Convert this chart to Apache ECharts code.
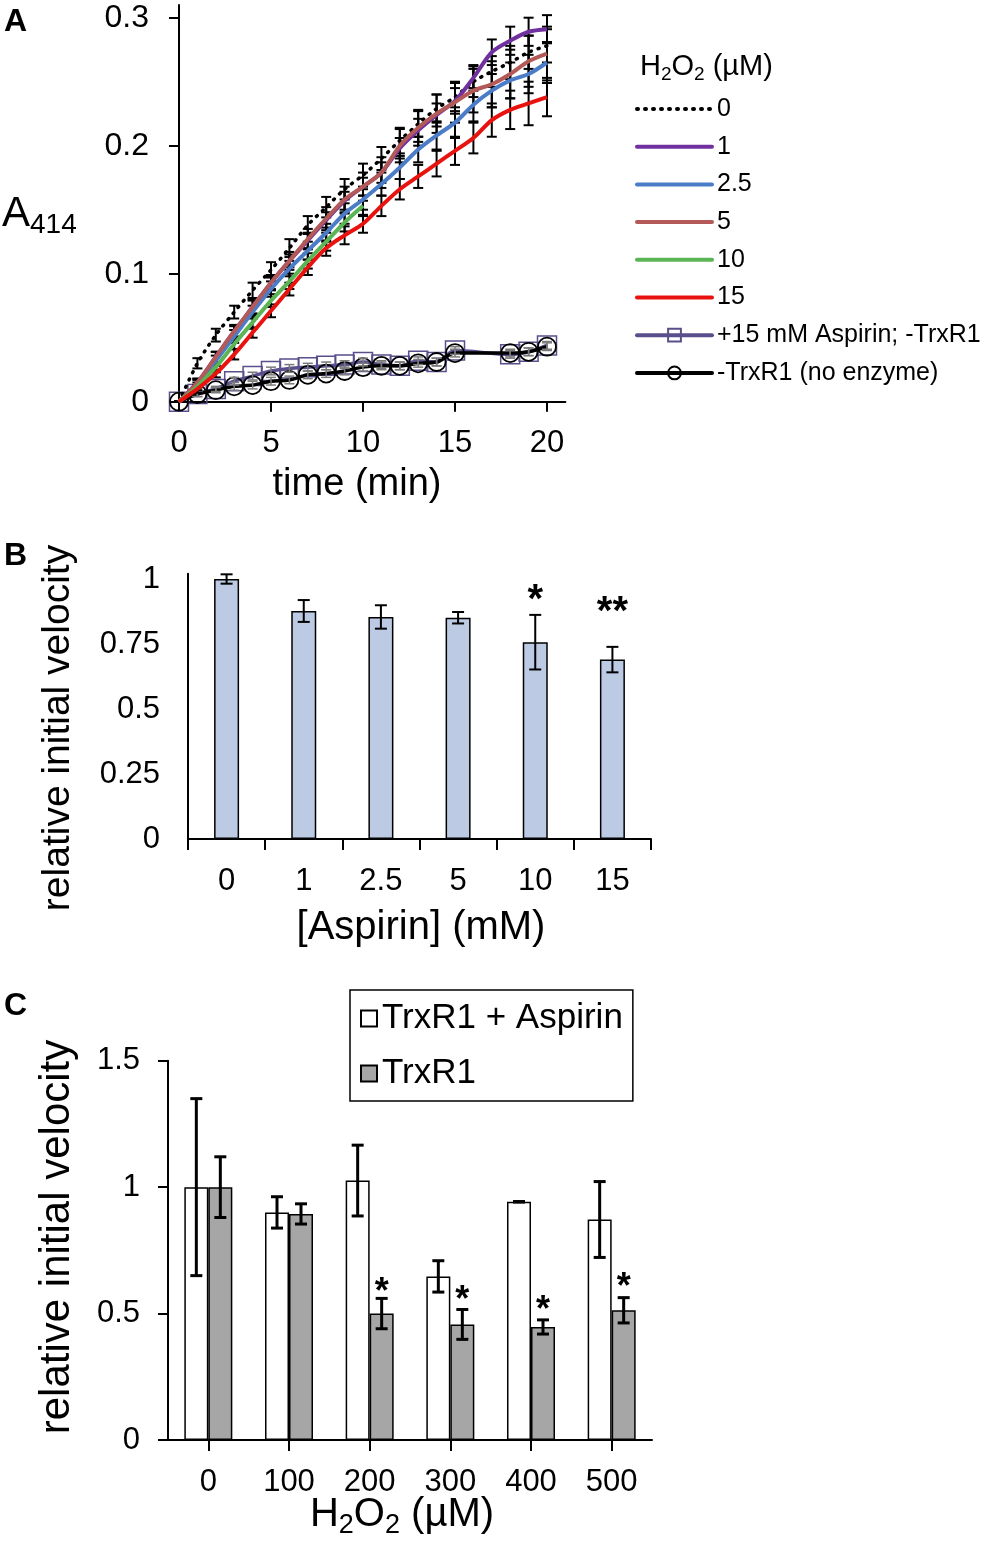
<!DOCTYPE html>
<html><head><meta charset="utf-8">
<script src="https://cdn.jsdelivr.net/npm/echarts@6/dist/echarts.min.js"></script>
<style>html,body{margin:0;padding:0;background:#fff}#c{width:986px;height:1541px}</style>
</head><body><div id="c"></div><script>
const FONT = '"Liberation Sans", Arial, Helvetica, sans-serif';

// ---------- Panel A data ----------
const timeA = [0,1,2,3,4,5,6,7,8,9,10,11,12,13,14,15,16,17,18,19,20];
const a_h0   = [0,0.030,0.052,0.070,0.087,0.103,0.120,0.138,0.152,0.166,0.177,0.190,0.204,0.217,0.229,0.238,0.250,0.258,0.265,0.273,0.278];
const a_h1   = [0,0.015,0.035,0.055,0.074,0.093,0.110,0.126,0.142,0.157,0.168,0.179,0.198,0.212,0.224,0.235,0.253,0.273,0.282,0.289,0.291];
const a_h2_5 = [0,0.014,0.032,0.051,0.070,0.088,0.104,0.118,0.132,0.147,0.158,0.170,0.183,0.197,0.208,0.218,0.232,0.243,0.251,0.256,0.265];
const a_h5   = [0,0.015,0.035,0.055,0.074,0.093,0.110,0.127,0.143,0.158,0.168,0.179,0.200,0.214,0.225,0.234,0.243,0.248,0.256,0.266,0.272];
const a_h10  = [0,0.012,0.027,0.045,0.062,0.079,0.094,0.110,0.125,0.140,0.153];
const a_h15  = [0,0.010,0.022,0.037,0.054,0.071,0.088,0.105,0.120,0.130,0.139,0.153,0.166,0.176,0.186,0.196,0.206,0.220,0.228,0.233,0.238];
const e_h0   = [0,0.004,0.005,0.005,0.006,0.006,0.007,0.007,0.008,0.008,0.009,0.009,0.010,0.010,0.011,0.011,0.012,0.012,0.013,0.013,0.013];
const e_h1   = [0,0.003,0.004,0.004,0.005,0.005,0.005,0.006,0.006,0.007,0.007,0.008,0.008,0.009,0.009,0.010,0.010,0.010,0.011,0.011,0.011];
const e_h2_5 = [0,0.003,0.004,0.005,0.005,0.006,0.006,0.007,0.007,0.008,0.008,0.009,0.009,0.010,0.011,0.012,0.013,0.013,0.014,0.015,0.016];
const e_h5   = [0,0.003,0.004,0.005,0.006,0.006,0.007,0.008,0.009,0.010,0.011,0.012,0.013,0.014,0.015,0.016,0.017,0.018,0.019,0.020,0.021];
const e_h10  = [0,0.003,0.004,0.004,0.005,0.005,0.006,0.006,0.007,0.007,0.008];
const e_h15  = [0,0.003,0.003,0.004,0.004,0.005,0.005,0.006,0.006,0.007,0.007,0.008,0.008,0.009,0.010,0.011,0.012,0.013,0.015,0.017,0.015];
const timeLow = [0,1,2,3,4,5,6,7,8,9,10,11,12,13,14,15,18,19,20];
const a_asp   = [0,0.006,0.010,0.016,0.020,0.024,0.026,0.027,0.028,0.029,0.031,0.029,0.028,0.032,0.031,0.040,0.037,0.039,0.044];
const a_noEnz = [0,0.006,0.009,0.012,0.013,0.016,0.017,0.021,0.022,0.024,0.027,0.028,0.028,0.030,0.031,0.038,0.038,0.039,0.043];
const e_asp   = [0,0.002,0.002,0.003,0.003,0.003,0.003,0.003,0.003,0.003,0.003,0.003,0.003,0.003,0.003,0.003,0.003,0.003,0.003];
const e_noEnz = [0,0.002,0.002,0.003,0.003,0.003,0.003,0.003,0.003,0.003,0.003,0.003,0.003,0.003,0.003,0.003,0.003,0.003,0.003];
const namesA = ['0','1','2.5','5','10','15','+15 mM Aspirin; -TrxR1','-TrxR1 (no enzyme)'];
const ticksAx = [0,5,10,15,20];
const ticksAy = [0,0.1,0.2,0.3];

// ---------- Panel B data ----------
const catsB = ['0','1','2.5','5','10','15'];
const valsB = [1.0,0.877,0.854,0.851,0.757,0.690];
const errB  = [0.018,0.042,0.045,0.022,0.105,0.049];
const starsB = [[4,0.948,'*'],[5,0.900,'**']];
const ticksBy = [0,0.25,0.5,0.75,1];

// ---------- Panel C data ----------
const catsC = ['0','100','200','300','400','500'];
const valsCasp = [1.0,0.900,1.026,0.647,0.942,0.872];
const errCasp  = [0.350,0.062,0.140,0.062,0.001,0.150];
const valsCtrx = [1.0,0.894,0.500,0.457,0.447,0.513];
const errCtrx  = [0.120,0.040,0.060,0.059,0.028,0.050];
const starsC = [[2,0.610,'*'],[3,0.578,'*'],[4,0.540,'*'],[5,0.630,'*']];
const namesC = ['TrxR1 + Aspirin','TrxR1'];

const colorsA = ['#000000','#7030a0','#4a7cc8','#b35a58','#5cb555','#e8130f','#5b4e8c','#000000'];

function pairs(xs, ys){ return ys.map((y,i)=>[xs[i], y]); }
function triples(xs, ys, es){ return ys.map((y,i)=>[xs[i], y, es[i]]); }

function errRender(color, lw, cap, dx){
  return function(params, api){
    const x = api.value(0), v = api.value(1), e = api.value(2);
    const top = api.coord([x, v + e]);
    const bot = api.coord([x, v - e]);
    const cx = top[0] + (dx||0);
    const st = {stroke: color, lineWidth: lw};
    return {type:'group', children:[
      {type:'line', shape:{x1:cx, y1:top[1], x2:cx, y2:bot[1]}, style:st},
      {type:'line', shape:{x1:cx-cap, y1:top[1], x2:cx+cap, y2:top[1]}, style:st},
      {type:'line', shape:{x1:cx-cap, y1:bot[1], x2:cx+cap, y2:bot[1]}, style:st}
    ]};
  };
}
function starRender(size, dx){
  return function(params, api){
    const p = api.coord([api.value(0), api.value(1)]);
    return {type:'text', x:p[0]+(dx||0), y:p[1]+size*0.2,
      style:{text: api.value(2), font:'bold '+size+'px '+FONT, fill:'#000', align:'center', verticalAlign:'middle'}};
  };
}

const axisLineBlack = {show:true, lineStyle:{color:'#000', width:2}};
const tickStyle = {color:'#000', width:2};

const series = [];
const aVals = [a_h0,a_h1,a_h2_5,a_h5,a_h10,a_h15];
const aErrs = [e_h0,e_h1,e_h2_5,e_h5,e_h10,e_h15];
series.push({name:namesA[6], type:'line', xAxisIndex:0, yAxisIndex:0, data:pairs(timeLow,a_asp), smooth:0.3,
  symbol:'rect', symbolSize:19, showAllSymbol:true,
  lineStyle:{color:colorsA[6], width:3.5}, itemStyle:{color:'rgba(255,255,255,0)', borderColor:colorsA[6], borderWidth:1.5}, z:2});
series.push({name:namesA[7], type:'line', xAxisIndex:0, yAxisIndex:0, data:pairs(timeLow,a_noEnz), smooth:0.3,
  symbol:'circle', symbolSize:18, showAllSymbol:true,
  lineStyle:{color:colorsA[7], width:3.5}, itemStyle:{color:'rgba(255,255,255,0)', borderColor:'#000', borderWidth:1.8}, z:3});
series.push({type:'custom', xAxisIndex:0, yAxisIndex:0, data:triples(timeLow,a_asp,e_asp), renderItem:errRender('#7a7a7a',1.5,5), z:4, silent:true});
series.push({type:'custom', xAxisIndex:0, yAxisIndex:0, data:triples(timeLow,a_noEnz,e_noEnz), renderItem:errRender('#7a7a7a',1.5,5), z:4, silent:true});
for (let i=0;i<6;i++){
  const xs = timeA.slice(0, aVals[i].length);
  series.push({type:'custom', xAxisIndex:0, yAxisIndex:0, data:triples(xs,aVals[i],aErrs[i]), renderItem:errRender('#000',2,5), z:5, silent:true});
}
const drawOrder = [4,5,2,3,1,0];
for (const i of drawOrder){
  const xs = timeA.slice(0, aVals[i].length);
  const ls = i===0 ? {color:'#000', width:3.5, type:[1,7], cap:'round'} : {color:colorsA[i], width:4};
  series.push({name:namesA[i], type:'line', xAxisIndex:0, yAxisIndex:0, data:pairs(xs,aVals[i]), smooth:0.3,
    symbol:'none', lineStyle:ls, itemStyle:{color:colorsA[i]}, z:6+i});
}
// Panel B
series.push({name:'B', type:'bar', xAxisIndex:1, yAxisIndex:1, data:valsB, barWidth:25,
  itemStyle:{color:'#bccbe3', borderColor:'#000', borderWidth:1.5}, z:2});
series.push({type:'custom', xAxisIndex:1, yAxisIndex:1, data:valsB.map((v,i)=>[i,v,errB[i]]), renderItem:errRender('#000',2,6), z:5, silent:true});
series.push({type:'custom', xAxisIndex:1, yAxisIndex:1, data:starsB, renderItem:starRender(40,0), z:6, silent:true});
// Panel C
series.push({name:namesC[0], type:'bar', xAxisIndex:2, yAxisIndex:2, data:valsCasp, barWidth:24, barGap:'0%',
  itemStyle:{color:'#ffffff', borderColor:'#000', borderWidth:1.5}, z:2});
series.push({name:namesC[1], type:'bar', xAxisIndex:2, yAxisIndex:2, data:valsCtrx, barWidth:24, barGap:'0%',
  itemStyle:{color:'#a6a6a6', borderColor:'#000', borderWidth:1.5}, z:2});
series.push({type:'custom', xAxisIndex:2, yAxisIndex:2, data:valsCasp.map((v,i)=>[i,v,errCasp[i]]), renderItem:errRender('#000',3,6,-12), z:5, silent:true});
series.push({type:'custom', xAxisIndex:2, yAxisIndex:2, data:valsCtrx.map((v,i)=>[i,v,errCtrx[i]]), renderItem:errRender('#000',3,6,12), z:5, silent:true});
series.push({type:'custom', xAxisIndex:2, yAxisIndex:2, data:starsC, renderItem:starRender(36,12), z:6, silent:true});

const subRich = (size, sub)=>({
  n:{fontSize:size, lineHeight:Math.round(size*1.2), fontFamily:FONT, color:'#000'},
  s:{fontSize:sub, lineHeight:Math.round(sub*0.95), verticalAlign:'bottom', fontFamily:FONT, color:'#000'}
});

const hiddenSym = {color:'rgba(0,0,0,0)', borderColor:'rgba(0,0,0,0)', borderWidth:0};
const legendDataA = namesA.map((n,i)=> i<6 ? {name:n, itemStyle:hiddenSym} : {name:n});

const option = {
  animation:false,
  backgroundColor:'#fff',
  textStyle:{fontFamily:FONT, color:'#000'},
  grid:[
    {left:179, top:4.9, width:386.4, height:396.8},
    {left:188, top:573.8, width:463, height:265.2},
    {left:168, top:1060.7, width:484, height:379.3}
  ],
  xAxis:[
    {type:'value', gridIndex:0, min:0, max:21, splitLine:{show:false}, axisLine:axisLineBlack,
      axisTick:{show:true, length:10, lineStyle:tickStyle, customValues:ticksAx},
      axisLabel:{fontSize:31, margin:26, color:'#000', customValues:ticksAx}},
    {type:'category', gridIndex:1, data:catsB, axisLine:axisLineBlack,
      axisTick:{show:true, length:11, lineStyle:tickStyle},
      axisLabel:{fontSize:31, margin:27, color:'#000'}},
    {type:'category', gridIndex:2, data:catsC, axisLine:axisLineBlack,
      axisTick:{show:true, length:11, alignWithLabel:true, lineStyle:tickStyle},
      axisLabel:{fontSize:31, margin:27, color:'#000'}}
  ],
  yAxis:[
    {type:'value', gridIndex:0, min:0, max:0.31, splitLine:{show:false}, axisLine:axisLineBlack,
      axisTick:{show:true, length:10, lineStyle:tickStyle, customValues:ticksAy},
      axisLabel:{fontSize:32, margin:30, color:'#000', customValues:ticksAy}},
    {type:'value', gridIndex:1, min:0, max:1.02, splitLine:{show:false}, axisLine:axisLineBlack,
      axisTick:{show:false, customValues:ticksBy},
      axisLabel:{fontSize:31, margin:28, color:'#000', customValues:ticksBy}},
    {type:'value', gridIndex:2, min:0, max:1.5, interval:0.5, splitLine:{show:false}, axisLine:axisLineBlack,
      axisTick:{show:true, length:10, lineStyle:tickStyle},
      axisLabel:{fontSize:31, margin:28, color:'#000'}}
  ],
  legend:[
    {data:legendDataA, orient:'vertical', left:630, top:91, itemWidth:75, itemHeight:16, itemGap:11.7,
      lineStyle:{width:4, cap:'round'},
      textStyle:{fontSize:25, lineHeight:26, color:'#000', fontFamily:FONT}, selectedMode:false},
    {data:namesC.map(n=>({name:n, icon:'rect'})), orient:'vertical', left:350, top:990, itemWidth:16, itemHeight:16, itemGap:18,
      padding:[10,10,9,10], borderColor:'#000', borderWidth:1.5,
      textStyle:{fontSize:35, lineHeight:37, color:'#000', fontFamily:FONT}, selectedMode:false}
  ],
  graphic:[
    {type:'text', left:4, top:6, style:{text:'A', font:'bold 32px '+FONT, fill:'#000'}},
    {type:'text', left:4, top:540, style:{text:'B', font:'bold 32px '+FONT, fill:'#000'}},
    {type:'text', left:4, top:990, style:{text:'C', font:'bold 32px '+FONT, fill:'#000'}},
    {type:'text', x:2, y:214, style:{text:'{n|A}{s|414}', rich:subRich(42,28), verticalAlign:'middle', align:'left'}},
    {type:'text', x:640, y:67, style:{text:'{n|H}{s|2}{n|O}{s|2}{n| (µM)}', rich:subRich(29,19), verticalAlign:'middle', align:'left'}},
    {type:'text', x:357, y:485, style:{text:'time (min)', font:'38px '+FONT, fill:'#000', align:'center', verticalAlign:'middle'}},
    {type:'text', x:421, y:928, style:{text:'[Aspirin] (mM)', font:'40px '+FONT, fill:'#000', align:'center', verticalAlign:'middle'}},
    {type:'text', x:58, y:728, rotation:Math.PI/2, style:{text:'relative initial velocity', font:'39px '+FONT, fill:'#000', align:'center', verticalAlign:'middle'}},
    {type:'text', x:57, y:1237, rotation:Math.PI/2, style:{text:'relative initial velocity', font:'42px '+FONT, fill:'#000', align:'center', verticalAlign:'middle'}},
    {type:'text', x:402, y:1515, style:{text:'{n|H}{s|2}{n|O}{s|2}{n| (µM)}', rich:subRich(40,27), verticalAlign:'middle', align:'center'}}
  ],
  series: series
};
const chart = echarts.init(document.getElementById('c'), null, {renderer:'canvas'});
chart.setOption(option);
</script></body></html>
